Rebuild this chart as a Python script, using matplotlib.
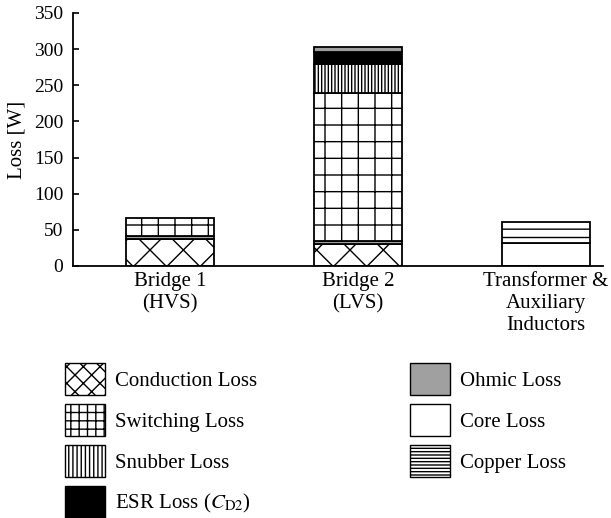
import numpy as np
import matplotlib
matplotlib.use("Agg")
import matplotlib.pyplot as plt
from matplotlib.patches import Patch

plt.rcParams['font.family'] = ['Liberation Serif', 'DejaVu Serif']
plt.rcParams['mathtext.fontset'] = 'stix'
plt.rcParams['hatch.linewidth'] = 1.0

# loss breakdown per converter part [W]
categories = ["Bridge 1\n(HVS)", "Bridge 2\n(LVS)", "Transformer &\nAuxiliary\nInductors"]
conduction = [38, 31, 0]
ohmic = [4, 4, 0]
switching = [24, 204, 0]
snubber = [0, 40, 0]
esr = [0, 17, 0]
ohmic_top = [0, 7, 0]
core = [0, 0, 32]
copper = [0, 0, 29]

# (values, face, hatch) in stacking order
stack = [
    (conduction, 'white', 'x'),
    (ohmic, '#a0a0a0', None),
    (switching, 'white', '+'),
    (snubber, 'white', '|||||'),
    (esr, 'black', None),
    (ohmic_top, '#a0a0a0', None),
    (core, 'white', None),
    (copper, 'white', '--'),
]

fs = 15

fig = plt.figure(figsize=(6.11, 5.18), dpi=100)
ax = fig.add_axes([0.1195, 0.4865, 0.867, 0.4885])

x = np.arange(len(categories))
bottom = np.zeros(len(categories))
for vals, face, hatch in stack:
    vals = np.array(vals, dtype=float)
    mask = vals > 0
    ax.bar(x[mask], vals[mask], 0.468, bottom=bottom[mask], color=face,
           edgecolor='black', linewidth=1.3, hatch=hatch)
    bottom += vals

ax.set_xlim(-0.516, 2.303)
ax.set_ylim(0, 350)
ax.set_yticks(np.arange(0, 351, 50))
ax.set_xticks(x)
ax.set_xticklabels(categories, fontsize=fs, linespacing=1.23)
ax.tick_params(axis='x', length=0, pad=4)
ax.tick_params(axis='y', direction='in', length=4, width=1.2, labelsize=14, pad=7)
ax.spines['top'].set_visible(False)
ax.spines['right'].set_visible(False)
ax.spines['left'].set_linewidth(1.3)
ax.spines['bottom'].set_linewidth(1.3)
ax.set_ylabel("Loss [W]", fontsize=fs)
ax.yaxis.set_label_coords(-0.088, 0.5)

left_items = [
    Patch(facecolor='white', edgecolor='black', hatch='xx', label="Conduction Loss"),
    Patch(facecolor='white', edgecolor='black', hatch='++', label="Switching Loss"),
    Patch(facecolor='white', edgecolor='black', hatch='||||', label="Snubber Loss"),
    Patch(facecolor='black', edgecolor='black', label=r"ESR Loss ($C_{\mathrm{D2}}$)"),
]
right_items = [
    Patch(facecolor='#a0a0a0', edgecolor='black', label="Ohmic Loss"),
    Patch(facecolor='white', edgecolor='black', label="Core Loss"),
    Patch(facecolor='white', edgecolor='black', hatch='-----', label="Copper Loss"),
]
common = dict(frameon=False, fontsize=fs, handlelength=1.92, handleheight=1.99,
              labelspacing=0.43, handletextpad=0.48, borderpad=0, borderaxespad=0,
              loc='upper left')
fig.legend(handles=left_items, bbox_to_anchor=(0.106, 0.299), **common)
fig.legend(handles=right_items, bbox_to_anchor=(0.671, 0.299), **common)

fig.savefig("out.png", dpi=100)
